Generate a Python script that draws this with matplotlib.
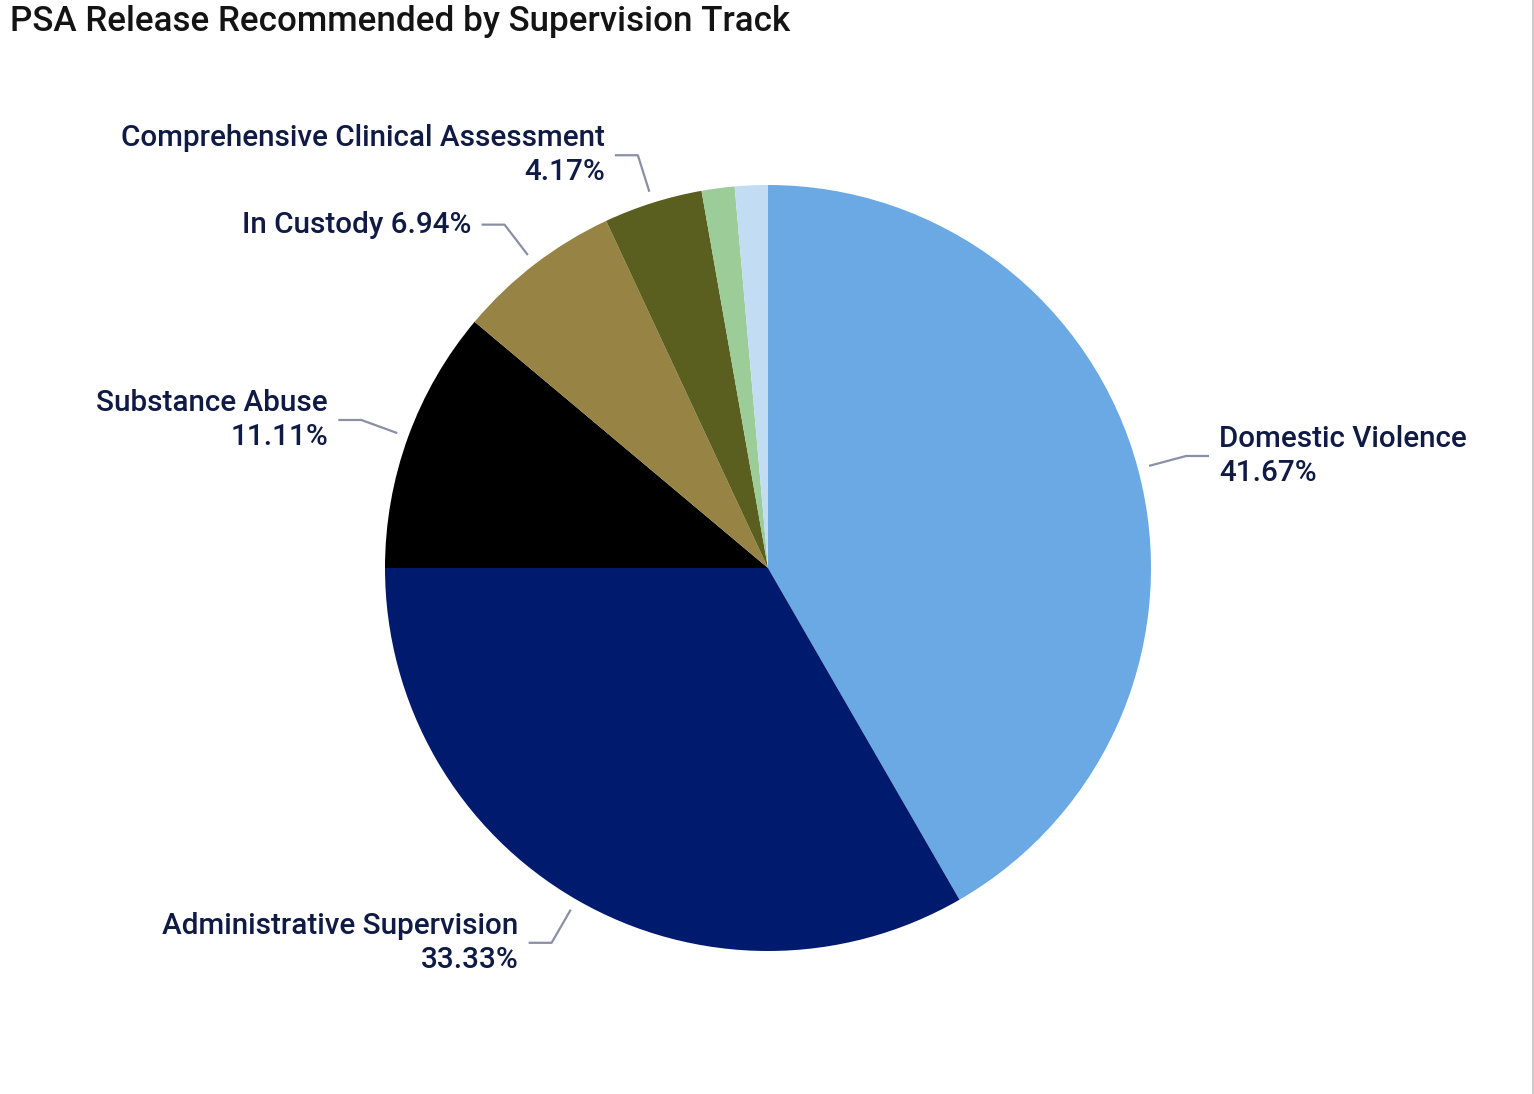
import numpy as np
import matplotlib
matplotlib.use("Agg")
import matplotlib.pyplot as plt
from matplotlib.lines import Line2D

categories = ["Domestic Violence", "Administrative Supervision", "Substance Abuse",
              "In Custody", "Comprehensive Clinical Assessment", "Other A", "Other B"]
counts = [30, 24, 8, 5, 3, 1, 1]
colors = ["#6aa9e4", "#001a6e", "#000000", "#978444", "#5a5e1f", "#9ccc98", "#c2dcf4"]
show_label = [True, True, True, True, True, False, False]
single_line = [False, False, False, True, False, False, False]

plt.rcParams['font.family'] = ['Roboto', 'DejaVu Sans']

W, H = 1534, 1094
fig = plt.figure(figsize=(W / 100, H / 100), dpi=100)
cx, cy, R = 768, 568, 383
ax = fig.add_axes([0, 0, 1, 1])

wedges, _ = ax.pie(counts, colors=colors, startangle=90, counterclock=False,
                   radius=1.0, center=(0, 0), frame=True,
                   wedgeprops=dict(linewidth=0))
ax.set_xlim(-cx / R, (W - cx) / R)
ax.set_ylim(-(H - cy) / R, cy / R)
ax.set_aspect('auto')
ax.axis('off')

total = sum(counts)
label_color = "#0f1a45"
line_color = "#8a8fa5"
for w, cat, c, show, single in zip(wedges, categories, counts, show_label, single_line):
    if not show:
        continue
    ang = np.deg2rad((w.theta1 + w.theta2) / 2)
    ca, sa = np.cos(ang), np.sin(ang)
    x0, y0 = 1.03 * ca, 1.03 * sa
    x1, y1 = 1.13 * ca, 1.13 * sa
    side = 1 if ca > 0 else -1
    x2 = x1 + side * 0.06
    ax.plot([x0, x1, x2], [y0, y1, y1], color=line_color, lw=1.6, solid_capstyle='butt')
    pct = f"{100 * c / total:.2f}%"
    txt = f"{cat} {pct}" if single else f"{cat}\n{pct}"
    ax.text(x2 + side * 0.027, y1, txt, ha='left' if side > 0 else 'right',
            va='center', fontsize=21.3, color=label_color, fontweight='medium',
            multialignment='left' if side > 0 else 'right', linespacing=1.25)

fig.text(10 / W, 1 - 21 / H, "PSA Release Recommended by Supervision Track",
         ha='left', va='center', fontsize=25.2, color="#141414", fontweight='medium')
fig.add_artist(Line2D([1 - 1.5 / W, 1 - 1.5 / W], [0, 1], color="#c8c8c8", lw=2,
                      transform=fig.transFigure))

fig.savefig("out.png", dpi=100)
